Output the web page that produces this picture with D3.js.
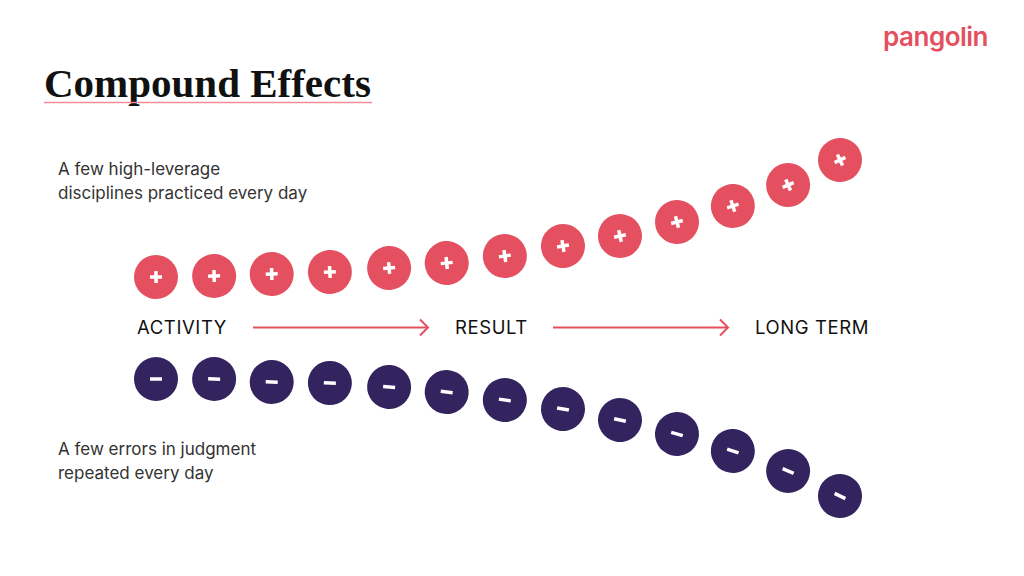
<!DOCTYPE html>
<html><head><meta charset="utf-8">
<script src="https://cdn.jsdelivr.net/npm/d3@7"></script>
<style>
html,body{margin:0;padding:0;background:#fff;}
svg{display:block;}
</style></head>
<body>
<svg id="chart" width="1024" height="576"></svg>
<script>
// Data
const stepPositions = [0, 1.02, 2.03, 3.05, 4.09, 5.1, 6.12, 7.14, 8.14, 9.14, 10.12, 11.09, 12];
const positiveValues = [51, 52, 54, 56, 60, 65, 72, 82, 92, 106, 122, 143, 168];
const negativeValues = [51, 51, 54, 55, 59, 64, 72, 81, 92, 106, 123, 143, 168];
const stageLabels = ["ACTIVITY", "RESULT", "LONG TERM"];
const topCaption = ["A few high-leverage", "disciplines practiced every day"];
const bottomCaption = ["A few errors in judgment", "repeated every day"];

const RED = "#e4505f", NAVY = "#33235f", TEXT = "#333";
const svg = d3.select("#chart");

const x = d3.scaleLinear().domain([0, 12]).range([156, 840]);
const yUp = d3.scaleLinear().domain([0, 168]).range([328, 160]);
const yDown = d3.scaleLinear().domain([0, 168]).range([328, 496]);

// Title
svg.append("text").attr("x", 44).attr("y", 97)
  .attr("font-family", "'Liberation Serif', 'DejaVu Serif', serif")
  .attr("font-weight", "bold").attr("font-size", 41).attr("fill", "#111")
  .text("Compound Effects");
svg.append("line").attr("x1", 44).attr("x2", 372).attr("y1", 102.5).attr("y2", 102.5)
  .attr("stroke", "#f08d96").attr("stroke-width", 1.6);

// Logo
svg.append("text").attr("x", 988).attr("y", 46).attr("text-anchor", "end")
  .attr("font-family", "Inter, 'Open Sans', sans-serif").attr("font-weight", 600)
  .attr("font-size", 26).attr("letter-spacing", -0.5).attr("fill", RED).text("pangolin");

// Captions
function caption(lines, y0) {
  lines.forEach((t, i) => {
    svg.append("text").attr("x", 58).attr("y", y0 + i * 24)
      .attr("font-family", "Inter, 'Noto Sans', sans-serif").attr("font-size", 17)
      .attr("fill", TEXT).text(t);
  });
}
caption(topCaption, 175);
caption(bottomCaption, 455);

// Stage labels and arrows
const labelX = [137, 455, 755];
stageLabels.forEach((t, i) => {
  svg.append("text").attr("x", labelX[i]).attr("y", 334)
    .attr("font-family", "Inter, 'Noto Sans', sans-serif").attr("font-size", 18.5)
    .attr("letter-spacing", 0.6)
    .attr("fill", "#111").text(t);
});
[[253, 428], [553, 728]].forEach(([a, b]) => {
  svg.append("line").attr("x1", a).attr("x2", b).attr("y1", 327.5).attr("y2", 327.5)
    .attr("stroke", RED).attr("stroke-width", 2);
  svg.append("path").attr("d", `M${b-8},${319.5} L${b},${327.5} L${b-8},${335.5}`)
    .attr("fill", "none").attr("stroke", RED).attr("stroke-width", 2);
});

function angleAt(vals, yScale, i) {
  const a = Math.max(0, i - 1), b = Math.min(vals.length - 1, i + 1);
  const dx = x(stepPositions[b]) - x(stepPositions[a]);
  const dy = yScale(vals[b]) - yScale(vals[a]);
  return Math.atan2(dy, dx) * 180 / Math.PI;
}

function drawSeries(vals, yScale, color, sign) {
  const g = svg.append("g").selectAll("g").data(stepPositions).join("g")
    .attr("transform", (d, i) => `translate(${x(d)},${yScale(vals[i])}) rotate(${angleAt(vals, yScale, i)})`);
  g.append("circle").attr("r", 22).attr("fill", color);
  g.append("rect").attr("x", -6).attr("y", -1.75).attr("width", 12).attr("height", 3.5).attr("fill", "#fff");
  if (sign === "+") {
    g.append("rect").attr("x", -1.75).attr("y", -6).attr("width", 3.5).attr("height", 12).attr("fill", "#fff");
  }
}
drawSeries(positiveValues, yUp, RED, "+");
drawSeries(negativeValues, yDown, NAVY, "-");
</script>
</body></html>
